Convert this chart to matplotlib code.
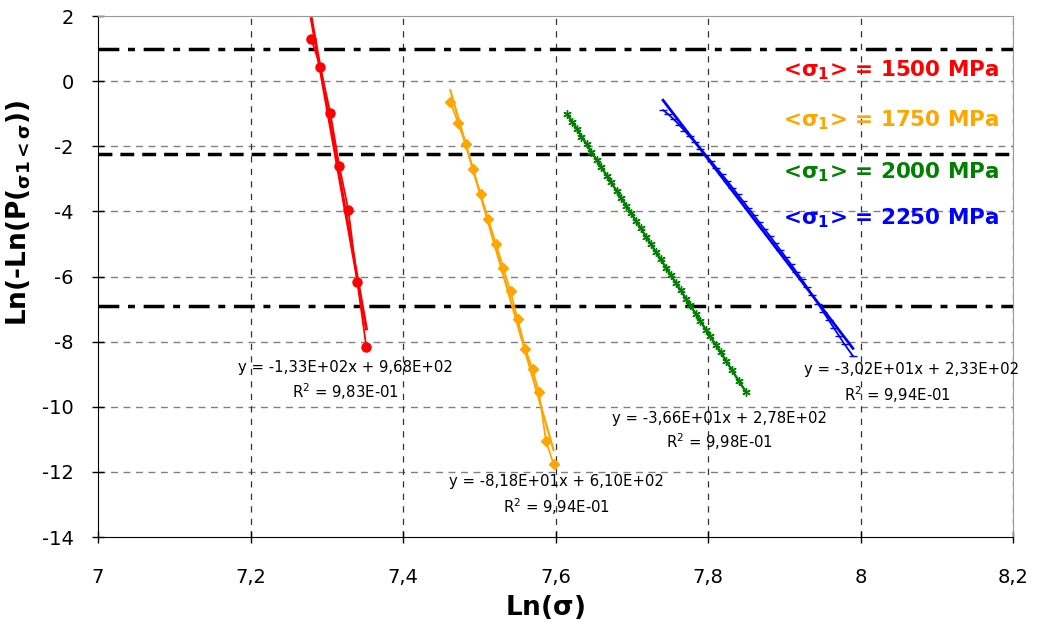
import matplotlib
matplotlib.use('Agg')
import matplotlib.pyplot as plt
import numpy as np
from matplotlib.ticker import FuncFormatter

plt.rcParams['font.family'] = ['DejaVu Sans']
plt.rcParams['mathtext.fontset'] = 'dejavusans'
plt.rcParams['axes.unicode_minus'] = False

# Données
x_1500 = [7.2798, 7.2916, 7.3047, 7.3165, 7.3283, 7.3401, 7.3519]
y_1500 = [1.29, 0.43, -0.98, -2.61, -3.96, -6.17, -8.17]

x_1750 = [7.462, 7.4721, 7.482, 7.4917, 7.5017, 7.5118, 7.5219, 7.5315,
          7.541, 7.5502, 7.5603, 7.5699, 7.5782, 7.5874, 7.5974]
y_1750 = [-0.63, -1.28, -1.93, -2.71, -3.47, -4.24, -5.00, -5.73,
          -6.46, -7.30, -8.22, -8.85, -9.55, -11.04, -11.76]

x_2000 = [7.615, 7.621, 7.628, 7.634, 7.641, 7.647, 7.654, 7.660, 7.667,
          7.673, 7.680, 7.686, 7.693, 7.699, 7.706, 7.712, 7.719, 7.725,
          7.732, 7.738, 7.745, 7.751, 7.758, 7.764, 7.771, 7.777, 7.784,
          7.790, 7.797, 7.803, 7.810, 7.817, 7.824, 7.831, 7.840, 7.850]
y_2000 = [-1.00, -1.25, -1.46, -1.72, -1.93, -2.17, -2.42, -2.64, -2.90,
          -3.10, -3.37, -3.58, -3.84, -4.05, -4.31, -4.52, -4.79, -5.00,
          -5.26, -5.47, -5.74, -5.95, -6.21, -6.42, -6.68, -6.89, -7.15,
          -7.37, -7.63, -7.84, -8.09, -8.33, -8.60, -8.86, -9.22, -9.55]

x_2250 = [7.741, 7.748, 7.755, 7.762, 7.769, 7.776, 7.783, 7.790, 7.797,
          7.804, 7.811, 7.818, 7.825, 7.832, 7.839, 7.846, 7.853, 7.860,
          7.867, 7.874, 7.881, 7.888, 7.895, 7.902, 7.909, 7.916, 7.923,
          7.930, 7.937, 7.944, 7.951, 7.958, 7.965, 7.972, 7.979, 7.990]
y_2250 = [-0.89, -1.02, -1.17, -1.34, -1.52, -1.70, -1.88, -2.07, -2.26,
          -2.46, -2.66, -2.86, -3.06, -3.27, -3.48, -3.69, -3.90, -4.11,
          -4.33, -4.54, -4.75, -4.97, -5.19, -5.41, -5.63, -5.86, -6.09,
          -6.33, -6.58, -6.83, -7.08, -7.33, -7.58, -7.83, -8.08, -8.44]

labels = ['1500', '1750', '2000', '2250']
colors = ['#FF0000', '#FFA500', '#008000', '#0000FF']
equations = ['y = -1,33E+02x + 9,68E+02', 'y = -8,18E+01x + 6,10E+02',
             'y = -3,66E+01x + 2,78E+02', 'y = -3,02E+01x + 2,33E+02']
r2_texts = ['9,83E-01', '9,94E-01', '9,98E-01', '9,94E-01']

# niveaux horizontaux
h_levels = [1.0, -2.25, -6.9]

fig = plt.figure(figsize=(10.37, 6.3), dpi=100)
ax = fig.add_axes([0.0945, 0.1476, 0.8824, 0.827])

series = [(x_1500, y_1500), (x_1750, y_1750), (x_2000, y_2000), (x_2250, y_2250)]
markers = ['o', 'D', (6, 2, 0), '_']
msizes = [6.5, 5, 6, 6]
trend_lw = [2.2, 1.6, 1.6, 2.0]

for (xs, ys), c, m, ms, tlw in zip(series, colors, markers, msizes, trend_lw):
    xs = np.array(xs)
    ys = np.array(ys)
    ax.plot(xs, ys, color=c, marker=m, markersize=ms, lw=1.3,
            markeredgewidth=1.0, zorder=4)
    # courbe de tendance linéaire
    p = np.polyfit(xs, ys, 1)
    xt = np.array([xs.min(), xs.max()])
    ax.plot(xt, np.polyval(p, xt), color=c, lw=tlw, zorder=3)

# lignes noires horizontales
ax.axhline(h_levels[0], color='black', lw=2.5, linestyle=(0, (6, 2.5, 2, 2.5)), zorder=2)
ax.axhline(h_levels[1], color='black', lw=2.5, linestyle=(0, (4, 2.3)), zorder=2)
ax.axhline(h_levels[2], color='black', lw=2.5, linestyle=(0, (6, 2.5, 2, 2.5)), zorder=2)

# équations des tendances
eq_pos = [(7.3244, -8.78, -9.55), (7.6009, -12.31, -13.08),
          (7.8145, -10.35, -11.08), (8.0675, -8.87, -9.64)]
r2_x = [7.3244, 7.6009, 7.8145, 8.0478]
for eq, r2, (ex, ey1, ey2), rx in zip(equations, r2_texts, eq_pos, r2_x):
    ax.text(ex, ey1, eq, fontsize=10.7, ha='center', va='center', zorder=5)
    ax.text(rx, ey2, r'R$^2$ = ' + r2, fontsize=10.7, ha='center', va='center', zorder=5)

# étiquettes des contraintes
lab_y = [0.34, -1.19, -2.79, -4.20]
for lab, c, ly in zip(labels, colors, lab_y):
    ax.text(7.898, ly, r'<$\mathbf{\sigma_1}$> = ' + lab + ' MPa', color=c,
            fontsize=15.5, fontweight='bold', ha='left', va='center', zorder=5)

ax.set_xlim(7, 8.2)
ax.set_ylim(-14, 2)
ax.set_xticks(np.arange(7, 8.21, 0.2))
ax.set_yticks(np.arange(-14, 2.1, 2))
ax.xaxis.set_major_formatter(FuncFormatter(lambda v, pos: ('%g' % round(v, 1)).replace('.', ',')))
ax.yaxis.set_major_formatter(FuncFormatter(lambda v, pos: '%d' % round(v)))
ax.tick_params(axis='both', labelsize=14, direction='inout', length=9, width=1)
ax.tick_params(axis='x', pad=17.5)
ax.tick_params(axis='y', pad=13)

# grille
for yv in np.arange(-12, 2, 2):
    ax.axhline(yv, color='#808080', lw=1, linestyle=(0, (5, 4)), zorder=1)
for xv in np.arange(7.2, 8.21, 0.2):
    ax.axvline(xv, color='#333333', lw=0.9, linestyle=(0, (5, 5)), zorder=1)

for s in ['left', 'bottom']:
    ax.spines[s].set_color('black')
for s in ['top', 'right']:
    ax.spines[s].set_color('#999999')

ax.set_xlabel(r'Ln($\mathbf{\sigma}$)', fontsize=19, fontweight='bold')
ax.set_ylabel(r'Ln(-Ln(P($_{\mathbf{\sigma 1<\sigma}}$))', fontsize=19,
              fontweight='bold')
ax.xaxis.set_label_coords(0.489, -0.108)
ax.yaxis.set_label_coords(-0.071, 0.622)

fig.savefig('out.png', dpi=100)
